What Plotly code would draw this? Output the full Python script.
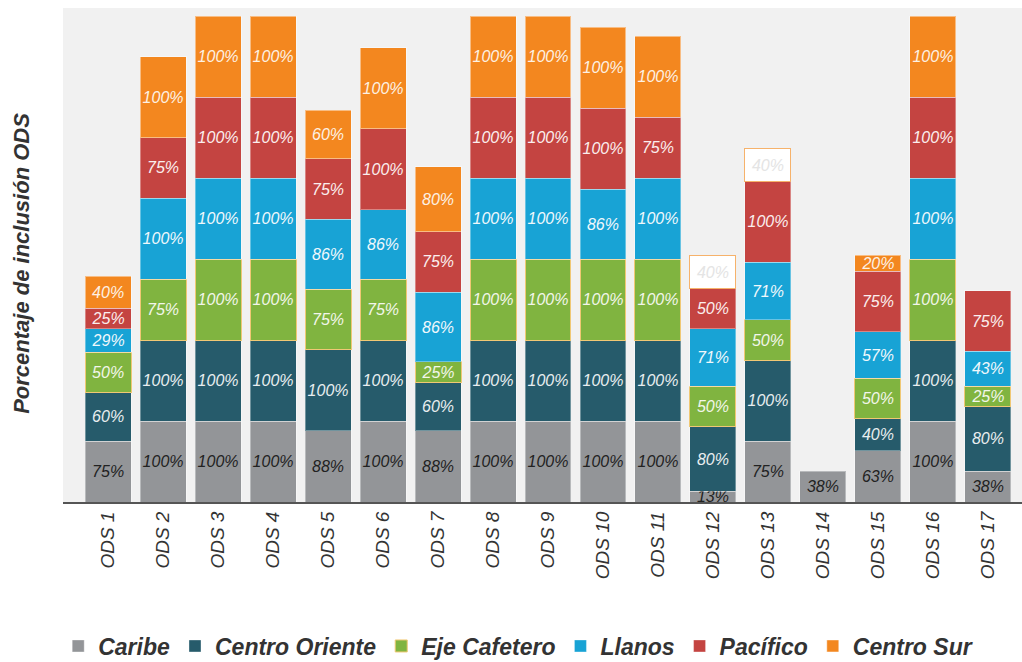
import plotly.graph_objects as go

# categories
ods = ["ODS %d" % i for i in range(1, 18)]

# percentage of inclusion by region (None = no segment)
caribe = [75, 100, 100, 100, 88, 100, 88, 100, 100, 100, 100, 13, 75, 38, 63, 100, 38]
centro_oriente = [60, 100, 100, 100, 100, 100, 60, 100, 100, 100, 100, 80, 100, None, 40, 100, 80]
eje_cafetero = [50, 75, 100, 100, 75, 75, 25, 100, 100, 100, 100, 50, 50, None, 50, 100, 25]
llanos = [29, 100, 100, 100, 86, 86, 86, 100, 100, 86, 100, 71, 71, None, 57, 100, 43]
pacifico = [25, 75, 100, 100, 75, 100, 75, 100, 100, 100, 75, 50, 100, None, 75, 100, 75]
centro_sur = [40, 100, 100, 100, 60, 100, 80, 100, 100, 100, 100, 40, 40, None, 20, 100, None]

# ODS 12 and 13 Centro Sur segments are drawn blank (white) in the original
blank_sur = ["ODS 12", "ODS 13"]

FONT = "Liberation Sans, Arial, Helvetica, sans-serif"

series = [
    ("Caribe", caribe, "#939598", "rgba(255,255,255,0.35)", "#222222"),
    ("Centro Oriente", centro_oriente, "#265b6b", "rgba(255,255,255,0.35)", "#e9eef0"),
    ("Eje Cafetero", eje_cafetero, "#80b440", "#f0c874", "#f2f6ea"),
    ("Llanos", llanos, "#18a3d5", "rgba(255,255,255,0.35)", "#f0f8fc"),
    ("Pacífico", pacifico, "#c44441", "rgba(255,255,255,0.35)", "#fbeeee"),
    ("Centro Sur", centro_sur, "#f3871f", "rgba(255,255,255,0.45)", "#fdf1e4"),
]

fig = go.Figure()
for name, vals, color, edge, tcolor in series:
    colors = []
    tcolors = []
    edges = []
    for cat in ods:
        if name == "Centro Sur" and cat in blank_sur:
            colors.append("#ffffff")
            tcolors.append("#e4e4e4")
            edges.append("#f6b26b")
        else:
            colors.append(color)
            tcolors.append(tcolor)
            edges.append(edge)
    fig.add_trace(go.Bar(
        name=name, x=ods, y=vals,
        text=["" if v is None else "%d%%" % v for v in vals],
        textposition="inside", insidetextanchor="middle", textangle=0,
        textfont=dict(family=FONT, size=16, color=tcolors, style="italic"),
        marker=dict(color=colors, line=dict(color=edges, width=1)),
        hoverinfo="x+y+name",
    ))

fig.add_annotation(
    text="Porcentaje de inclusión ODS", textangle=-90,
    xref="paper", yref="paper", x=-0.0428, y=0.484, xanchor="center", yanchor="middle",
    showarrow=False,
    font=dict(family=FONT, size=22, color="#333333", weight="bold", style="italic"),
)

fig.update_layout(
    width=1022, height=662,
    barmode="stack", bargap=0.164,
    paper_bgcolor="white", plot_bgcolor="#f1f1f1",
    margin=dict(l=63, r=0, t=8, b=160, autoexpand=False),
    uniformtext=dict(minsize=16, mode="show"),
    xaxis=dict(
        range=[-0.82, 16.62], tickangle=-90, showgrid=False, automargin=False,
        showline=True, linecolor="#555555", linewidth=2, ticks="",
        tickfont=dict(family=FONT, size=19, color="#333333", style="italic"),
    ),
    yaxis=dict(range=[0, 610], showticklabels=False, showgrid=False,
               zeroline=False, showline=False, automargin=False),
    legend=dict(
        orientation="h", x=-0.005, xanchor="left", y=-0.248, yanchor="top",
        font=dict(family=FONT, size=23, color="#333333", weight="bold", style="italic"),
        itemwidth=30, traceorder="normal",
    ),
    showlegend=True,
)

# drop the default page margin so the figure sits at the window's corner
fig.write_html("out.html", config={"displayModeBar": False},
               post_script="document.body.style.margin='0';")
